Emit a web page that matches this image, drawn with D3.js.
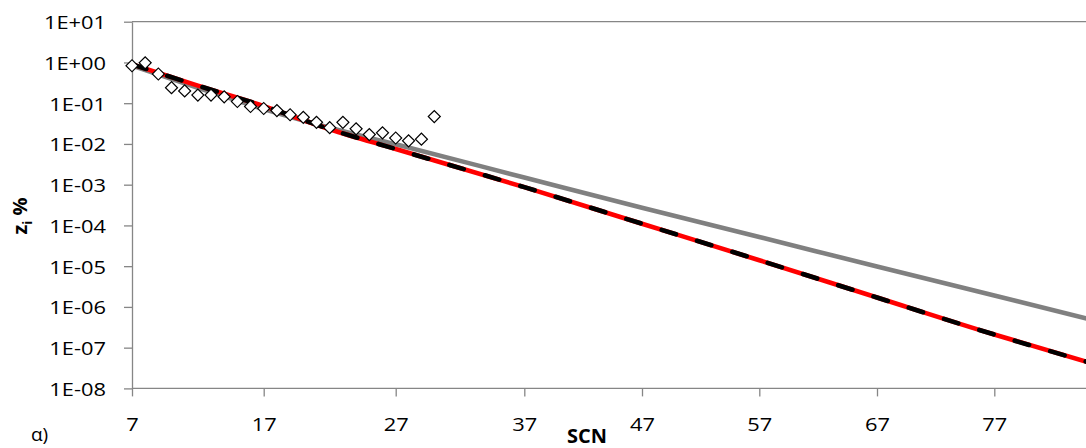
<!DOCTYPE html>
<html>
<head>
<meta charset="utf-8">
<script src="https://cdn.jsdelivr.net/npm/d3@7"></script>
<style>
  html, body { margin: 0; padding: 0; background: #fff; }
  svg { display: block; }
  text { font-family: "Open Sans", "Liberation Sans", sans-serif; fill: #000; }
</style>
</head>
<body>
<svg id="chart" width="1086" height="448"></svg>
<script>
// Measured mole fractions per single carbon number (SCN)
const scnObserved = [7, 8, 9, 10, 11, 12, 13, 14, 15, 16, 17, 18, 19, 20, 21, 22, 23, 24, 25, 26, 27, 28, 29, 30];
const ziObserved = [0.83, 0.98, 0.52, 0.24, 0.20, 0.158, 0.158, 0.143, 0.110, 0.083, 0.074, 0.066,
                    0.052, 0.045, 0.034, 0.025, 0.034, 0.0235, 0.017, 0.0187, 0.014, 0.0119, 0.0131, 0.047];

// Fitted distributions evaluated at selected carbon numbers
const scnFit = [7, 12, 17, 22, 27, 37, 47, 57, 67, 77, 85];
const ziFitGrey = [0.84, 0.24, 0.072, 0.025, 0.0098, 1.5e-3, 2.7e-4, 5.2e-5, 9.8e-6, 1.9e-6, 5.1e-7];
const ziFitRed = [0.90, 0.27, 0.085, 0.023, 7.5e-3, 8.7e-4, 1.1e-4, 1.4e-5, 1.7e-6, 2.1e-7, 4.4e-8];
const ziFitBlack = [0.90, 0.27, 0.085, 0.023, 7.5e-3, 8.7e-4, 1.1e-4, 1.4e-5, 1.7e-6, 2.1e-7, 4.4e-8];

// Axis ticks
const xTickValues = [7, 17, 27, 37, 47, 57, 67, 77];
const xTickLabels = ["7", "17", "27", "37", "47", "57", "67", "77"];
const yTickValues = [1e1, 1e0, 1e-1, 1e-2, 1e-3, 1e-4, 1e-5, 1e-6, 1e-7, 1e-8];
const yTickLabels = ["1E+01", "1E+00", "1E-01", "1E-02", "1E-03", "1E-04", "1E-05", "1E-06", "1E-07", "1E-08"];

const width = 1086, height = 448;
const plot = { left: 132, right: 1086, top: 21.7, bottom: 388.4 };
const axisColor = "#868686";
const labelStretch = 1.15;

const svg = d3.select("#chart");

// Horizontal scale: tick positions along the SCN axis
const x = d3.scaleLinear()
  .domain(xTickValues)
  .range([132, 263.7, 395.7, 524.3, 642, 759.3, 877, 994.3]);

const y = d3.scaleLog()
  .domain([1e-8, 1e1])
  .range([plot.bottom, plot.top]);

// Top border of the plot area
svg.append("line")
  .attr("x1", plot.left).attr("x2", plot.right)
  .attr("y1", plot.top).attr("y2", plot.top)
  .attr("stroke", axisColor).attr("stroke-width", 1.3);

// Y axis
const yAxis = svg.append("g")
  .attr("transform", `translate(${plot.left},0)`)
  .call(d3.axisLeft(y).tickValues(yTickValues)
    .tickFormat((d, i) => yTickLabels[i])
    .tickSize(8).tickSizeOuter(0));
yAxis.select(".domain").attr("stroke", axisColor).attr("stroke-width", 1.3);
yAxis.selectAll(".tick line").attr("stroke", axisColor).attr("stroke-width", 1.3);
yAxis.selectAll(".tick text")
  .attr("x", 0).attr("dy", "0.36em")
  .attr("transform", `translate(-26,0) scale(${labelStretch},1)`)
  .attr("text-anchor", "end")
  .style("font-size", "19px")
  .style("font-family", null);

// X axis
const xAxis = svg.append("g")
  .attr("transform", `translate(0,${plot.bottom})`)
  .call(d3.axisBottom(x).tickValues(xTickValues)
    .tickFormat((d, i) => xTickLabels[i])
    .tickSize(8).tickSizeOuter(0));
xAxis.select(".domain").remove();
xAxis.append("line")
  .attr("x1", plot.left).attr("x2", plot.right)
  .attr("stroke", axisColor).attr("stroke-width", 1.3);
xAxis.selectAll(".tick line").attr("stroke", axisColor).attr("stroke-width", 1.3);
xAxis.selectAll(".tick text")
  .attr("y", 0).attr("dy", 0)
  .attr("transform", `translate(0,43) scale(${labelStretch},1)`)
  .attr("text-anchor", "middle")
  .style("font-size", "19px")
  .style("font-family", null);

// Fitted curves
const line = (values) => d3.line()
  .x((d, i) => x(scnFit[i]))
  .y((d) => y(d))
  .curve(d3.curveMonotoneX)(values);

const curves = svg.append("g");
curves.append("path")
  .attr("d", line(ziFitGrey))
  .attr("fill", "none").attr("stroke", "#808080").attr("stroke-width", 4.6);
curves.append("path")
  .attr("d", line(ziFitRed))
  .attr("fill", "none").attr("stroke", "#ff0000").attr("stroke-width", 4.6);
curves.append("path")
  .attr("d", line(ziFitBlack))
  .attr("fill", "none").attr("stroke", "#000").attr("stroke-width", 4.6)
  .attr("stroke-dasharray", "15 22").attr("stroke-linecap", "round");

// Observed points
const diamond = d3.symbol().type(d3.symbolSquare).size(72);
svg.append("g")
  .selectAll("path")
  .data(scnObserved)
  .join("path")
  .attr("d", diamond)
  .attr("transform", (d, i) => `translate(${x(d)},${y(ziObserved[i])}) rotate(45)`)
  .attr("fill", "#fff")
  .attr("stroke", "#000")
  .attr("stroke-width", 1.2);

// Axis titles
svg.append("text")
  .attr("transform", `translate(587,443) scale(1.05,1)`)
  .attr("text-anchor", "middle")
  .style("font-size", "19px").style("font-weight", "bold")
  .text("SCN");

const yTitle = svg.append("text")
  .attr("transform", "translate(27,216) rotate(-90)")
  .attr("text-anchor", "middle")
  .style("font-size", "20px").style("font-weight", "bold");
yTitle.append("tspan").text("z");
yTitle.append("tspan").attr("dy", 5).style("font-size", "13px").text("i");
yTitle.append("tspan").attr("dy", -5).text(" %");

// Panel letter
svg.append("text")
  .attr("x", 31).attr("y", 441)
  .style("font-size", "19px")
  .text("α)");
</script>
</body>
</html>
